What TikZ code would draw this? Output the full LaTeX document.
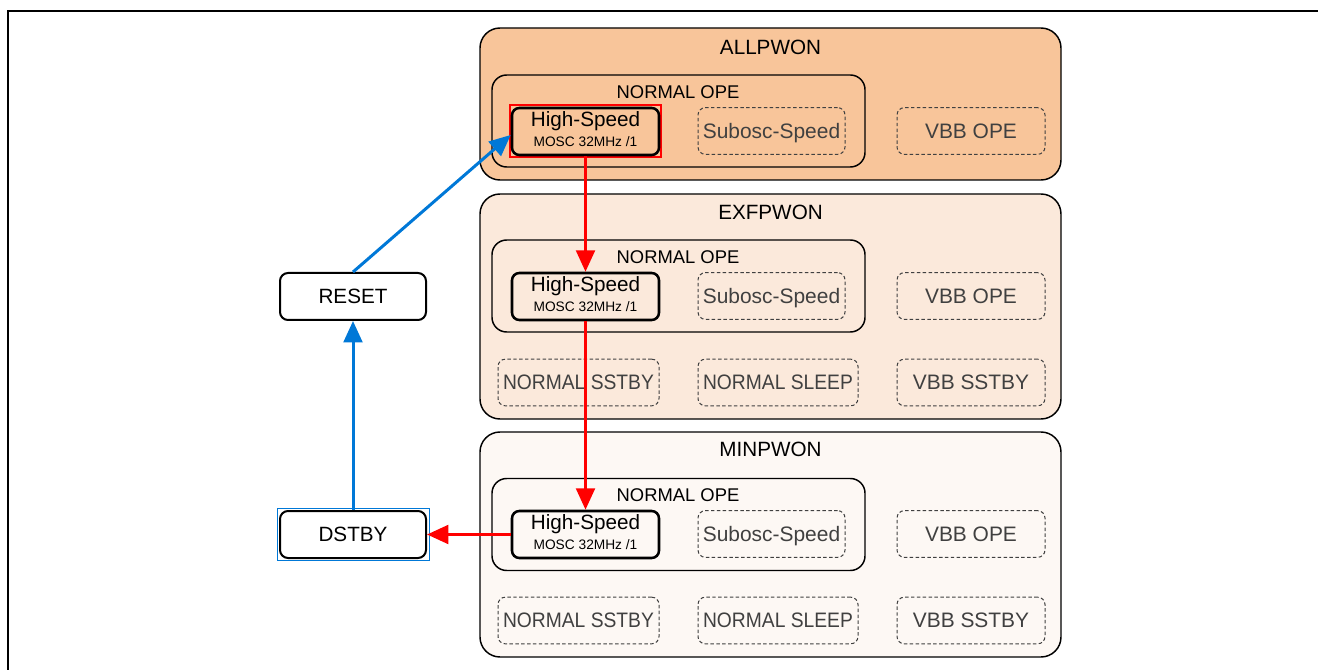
\documentclass[tikz,border=0pt]{standalone}
\usepackage{fontspec}
\usepackage{graphicx}
\setmainfont{Liberation Sans}
\usetikzlibrary{arrows.meta}
\definecolor{allfill}{HTML}{F8C59A}
\definecolor{exffill}{HTML}{FBE9DB}
\definecolor{minfill}{HTML}{FDF8F4}
\definecolor{arrblue}{HTML}{0078D7}
\definecolor{arrred}{HTML}{FF0000}
\definecolor{dtext}{HTML}{404040}
\begin{document}
\begin{tikzpicture}[x=0.75pt,y=-0.75pt,
  pwrbox/.style={draw=black, line width=1.1pt, rounded corners=15pt, minimum width=435.75pt, inner sep=0pt},
  opebox/.style={draw=black, line width=1.1pt, rounded corners=11pt, minimum width=279.75pt, minimum height=69pt, inner sep=0pt},
  hsbox/.style={draw=black, line width=1.9pt, rounded corners=5.5pt, minimum width=110.25pt, minimum height=35.25pt, inner sep=0pt},
  dbox/.style={draw=dtext, line width=0.75pt, dash pattern=on 2.6pt off 1.8pt, rounded corners=5.5pt, minimum height=35pt, inner sep=0pt, text=dtext, font=\fontsize{15.7}{18}\selectfont, text height=11.2pt, text depth=0pt},
  plainbox/.style={draw=black, line width=1.5pt, rounded corners=6pt, minimum width=109.5pt, minimum height=35.25pt, inner sep=0pt, font=\fontsize{15.5}{18}\selectfont, text height=11.1pt, text depth=0pt},
  ttl/.style={inner sep=0pt, font=\fontsize{15.5}{18}\selectfont, text height=11.1pt, text depth=0pt},
  opettl/.style={inner sep=0pt, font=\fontsize{13.8}{16}\selectfont, text height=9.9pt, text depth=0pt},
  hstxt/.style={inner sep=0pt, font=\fontsize{15.5}{18}\selectfont, text height=11.1pt, text depth=0pt},
  mosctxt/.style={inner sep=0pt, font=\fontsize{10.3}{12}\selectfont, text height=7.4pt, text depth=0pt},
  redarr/.style={draw=arrred, line width=2.25pt, -{Triangle[length=16pt,width=14pt]}},
  bluearr/.style={draw=arrblue, line width=2.25pt, -{Triangle[length=16pt,width=14pt]}}
]
\useasboundingbox (0,0) rectangle (1318,670);
% frame
\draw[line width=1.3pt] (8,670) -- (8,11) -- (1318,11);

% power domains
\node[pwrbox, fill=allfill, minimum height=114pt] (all) at (770.5,104) {};
\node[pwrbox, fill=exffill, minimum height=168.75pt] (exf) at (770.5,306.5) {};
\node[pwrbox, fill=minfill, minimum height=168.75pt] (min) at (770.5,544.5) {};
\node[ttl] (allT) at (770.5,47) {ALLPWON};
\node[ttl] (exfT) at (770.5,212) {EXFPWON};
\node[ttl] (minT) at (770.5,449.5) {MINPWON};

% NORMAL OPE boxes
\node[opebox] (opeA) at (678.5,121) {};
\node[opebox] (opeB) at (678.5,286) {};
\node[opebox] (opeC) at (678.5,524.5) {};
\node[opettl] (opeAT) at (678,92) {NORMAL OPE};
\node[opettl] (opeBT) at (678,257) {NORMAL OPE};
\node[opettl] (opeCT) at (678,495) {NORMAL OPE};

% High-Speed boxes
\node[draw=arrred, line width=0.9pt, minimum width=113.25pt, minimum height=39pt, inner sep=0pt] (hsAred) at (585.5,131) {};
\node[hsbox] (hsA) at (585.5,131.5) {};
\node[hsbox] (hsB) at (585.5,296.5) {};
\node[hsbox] (hsC) at (585.5,534.5) {};
\node[hstxt] (hsAt) at ([yshift=9.4pt]hsA.center) {High-Speed};
\node[mosctxt] (hsAm) at ([yshift=-7.6pt]hsA.center) {MOSC 32MHz /1};
\node[hstxt] (hsBt) at ([yshift=9.4pt]hsB.center) {High-Speed};
\node[mosctxt] (hsBm) at ([yshift=-7.6pt]hsB.center) {MOSC 32MHz /1};
\node[hstxt] (hsCt) at ([yshift=9.4pt]hsC.center) {High-Speed};
\node[mosctxt] (hsCm) at ([yshift=-7.6pt]hsC.center) {MOSC 32MHz /1};

% dashed boxes, top row
\node[dbox, minimum width=110.25pt] (subA) at (771.5,131) {Subosc-Speed};
\node[dbox, minimum width=111pt] (vbbA) at (971,131) {VBB OPE};
\node[dbox, minimum width=110.25pt] (subB) at (771.5,296) {Subosc-Speed};
\node[dbox, minimum width=111pt] (vbbB) at (971,296) {VBB OPE};
\node[dbox, minimum width=110.25pt] (subC) at (771.5,534) {Subosc-Speed};
\node[dbox, minimum width=111pt] (vbbC) at (971,534) {VBB OPE};

% dashed boxes, bottom row
\node[dbox, minimum width=120.75pt] (nsB) at (578.5,382.5) {\scalebox{0.92}[1]{NORMAL SSTBY}};
\node[dbox, minimum width=120pt] (nlB) at (778,382.5) {\scalebox{0.92}[1]{NORMAL SLEEP}};
\node[dbox, minimum width=111pt] (vsB) at (971,382.5) {VBB SSTBY};
\node[dbox, minimum width=120.75pt] (nsC) at (578.5,620.5) {\scalebox{0.92}[1]{NORMAL SSTBY}};
\node[dbox, minimum width=120pt] (nlC) at (778,620.5) {\scalebox{0.92}[1]{NORMAL SLEEP}};
\node[dbox, minimum width=111pt] (vsC) at (971,620.5) {VBB SSTBY};

% left nodes
\node[plainbox] (reset) at (353,296.5) {RESET};
\node[draw=arrblue, line width=0.75pt, minimum width=114pt, minimum height=39pt, inner sep=0pt] (dstbyblue) at (353,534) {};
\node[plainbox] (dstby) at (353,534.5) {DSTBY};

% connectors
\draw[redarr] (hsA.south) -- (hsB.north);
\draw[redarr] (hsB.south) -- (hsC.north);
\draw[redarr] (hsC.west) -- (dstby.east);
\draw[bluearr] (dstby.north) -- (reset.south);
\draw[bluearr] (reset.north) -- ([yshift=-2.6pt]hsA.west);
\end{tikzpicture}
\end{document}
